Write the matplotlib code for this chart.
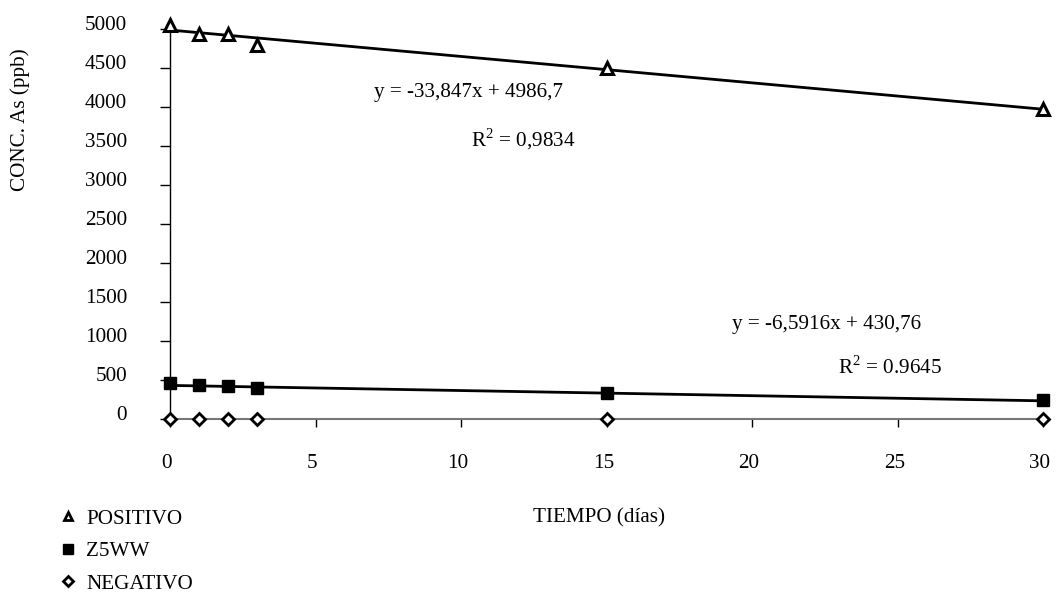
import matplotlib
matplotlib.use("Agg")
import matplotlib.pyplot as plt
from matplotlib.lines import Line2D
from matplotlib.transforms import ScaledTranslation
import numpy as np

plt.rcParams['font.family'] = ['Liberation Serif', 'DejaVu Serif']
plt.rcParams['mathtext.fontset'] = 'custom'
plt.rcParams['mathtext.rm'] = 'Liberation Serif'

# ---- data ----
dias = [0, 1, 2, 3, 15, 30]
positivo = [5050, 4935, 4930, 4800, 4500, 3975]
z5ww = [460, 440, 420, 400, 330, 250]
negativo = [0, 0, 0, 0, 0, 0]
series_names = ["POSITIVO", "Z5WW", "NEGATIVO"]

pos_slope, pos_intercept = -33.847, 4986.7
z5_slope, z5_intercept = -6.5916, 430.76
pos_eq = "y = -33,847x + 4986,7"
pos_r2 = "R$^{2}$ = 0,9834"
z5_eq = "y = -6,5916x + 430,76"
z5_r2 = "R$^{2}$ = 0.9645"

x_ticks = [0, 5, 10, 15, 20, 25, 30]
y_ticks = [0, 500, 1000, 1500, 2000, 2500, 3000, 3500, 4000, 4500, 5000]
x_label = "TIEMPO (días)"
y_label = "CONC. As (ppb)"

FS = 15.2
W, H = 1056, 594
fig = plt.figure(figsize=(W / 100, H / 100), dpi=100)
ax = fig.add_axes([170 / W, 1 - 419 / H, (1043 - 170) / W, (419 - 29) / H])

ax.set_xlim(0, 30)
ax.set_ylim(0, 5000)

# trend lines
xf = np.array([0, 30])
ax.plot(xf, pos_intercept + pos_slope * xf, color='black', lw=2, clip_on=False, zorder=3)
ax.plot(xf, z5_intercept + z5_slope * xf, color='black', lw=2, clip_on=False, zorder=3)

# markers
ax.plot(dias, positivo, linestyle='none', marker='^', ms=8, mfc='white', mec='black',
        mew=2.2, clip_on=False, zorder=4)
ax.plot(dias, z5ww, linestyle='none', marker='s', ms=9, mfc='black', mec='black',
        clip_on=False, zorder=4)
ax.plot(dias, negativo, linestyle='none', marker='D', ms=6, mfc='white', mec='black',
        mew=2, clip_on=False, zorder=4)

# spines
for s in ['top', 'right']:
    ax.spines[s].set_visible(False)
ax.spines['left'].set_color('black')
ax.spines['left'].set_linewidth(1)
ax.spines['bottom'].set_color('#777777')
ax.spines['bottom'].set_linewidth(1.5)

ax.set_xticks(x_ticks)
ax.set_yticks(y_ticks)
ax.set_xticklabels([str(v) for v in x_ticks], fontsize=FS)
ax.set_yticklabels([str(v) for v in y_ticks], fontsize=FS)
ax.tick_params(axis='y', direction='out', length=7, width=1, pad=24, colors='black')
ax.tick_params(axis='x', direction='out', length=6, width=1, pad=19, colors='black')
for lab in ax.get_yticklabels():
    lab.set_transform(lab.get_transform() + ScaledTranslation(0, 6 / 100, fig.dpi_scale_trans))
for lab in ax.get_xticklabels():
    lab.set_transform(lab.get_transform() + ScaledTranslation(-3 / 100, 0, fig.dpi_scale_trans))

# equations
ax.text(7.0, 4190, pos_eq, fontsize=FS, ha='left', va='center')
ax.text(10.35, 3590, pos_r2, fontsize=FS, ha='left', va='center')
ax.text(19.3, 1210, z5_eq, fontsize=FS, ha='left', va='center')
ax.text(22.95, 660, z5_r2, fontsize=FS, ha='left', va='center')

# axis labels
fig.text(599 / W, 1 - 518 / H, x_label, fontsize=FS, ha='center', va='center')
fig.text(20 / W, 1 - 120 / H, y_label, fontsize=FS, ha='center', va='center', rotation=90)

# legend
handles = [
    Line2D([], [], linestyle='none', marker='^', ms=6, mfc='white', mec='black', mew=2),
    Line2D([], [], linestyle='none', marker='s', ms=7, mfc='black', mec='black'),
    Line2D([], [], linestyle='none', marker='D', ms=5, mfc='white', mec='black', mew=2),
]
fig.legend(handles, series_names, loc='upper left', bbox_to_anchor=(59 / W, 1 - 509 / H),
           frameon=False, fontsize=FS, handlelength=0.85, handletextpad=0.45,
           labelspacing=0.6, borderaxespad=0, borderpad=0)

fig.savefig("out.png", dpi=100)
